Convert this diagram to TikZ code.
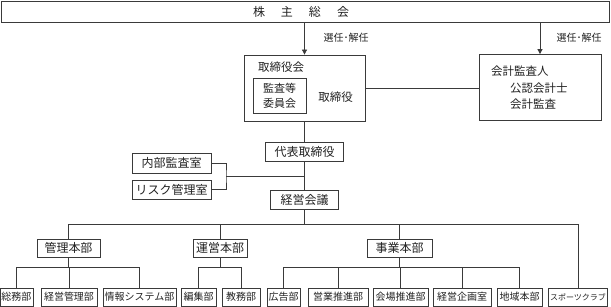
\documentclass[tikz,border=0pt]{standalone}
\usepackage{fontspec}
\setmainfont{Noto Sans CJK JP}
\usetikzlibrary{arrows.meta}
\definecolor{linec}{HTML}{3A3A3A}
\definecolor{textc}{HTML}{222222}
\tikzset{
  box/.style={draw=linec, line width=0.8pt, inner sep=0pt, text=textc,
    minimum height=19pt, font=\fontsize{12}{14}\selectfont},
  leaf/.style={box, minimum height=18pt, font=\fontsize{10}{12}\selectfont},
  conn/.style={draw=linec, line width=0.8pt},
  lbl/.style={inner sep=0pt, text=textc, font=\fontsize{10}{12}\selectfont},
  arr/.style={conn, -{Triangle[length=5pt,width=5pt]}},
}
\begin{document}
\begin{tikzpicture}[x=1pt,y=-1pt]
\useasboundingbox (0,0) rectangle (611,307);
% top
\node[box, minimum width=608pt, minimum height=21pt] (top) at (305,11.5) {};
\node[lbl, font=\fontsize{12}{14}\selectfont] (toptxt) at (301,11.5) {株\hspace{16pt}主\hspace{16pt}総\hspace{16pt}会};
% board
\node[box, minimum width=121pt, minimum height=66pt] (board) at (304.5,88) {};
\node[lbl, font=\fontsize{11.5}{14}\selectfont] (boardtxt) at (281,67) {取締役会};
\node[box, minimum width=53pt, minimum height=35pt, align=center,
  font=\fontsize{11}{15}\selectfont] (comm) at (279.5,95.5) {監査等\\委員会};
\node[lbl, font=\fontsize{11.5}{14}\selectfont] (dirtxt) at (335.5,97) {取締役};
% auditor
\node[box, minimum width=122pt, minimum height=66pt] (aud) at (540,87.5) {};
\node[lbl, anchor=west, font=\fontsize{11.5}{14}\selectfont] (aud1) at (491,71) {会計監査人};
\node[lbl, anchor=west, font=\fontsize{11.5}{14}\selectfont] (aud2) at (510,88) {公認会計士};
\node[lbl, anchor=west, font=\fontsize{11.5}{14}\selectfont] (aud3) at (510,104) {会計監査};
% labels
\node[lbl] (sel1) at (346,38) {選任･解任};
\node[lbl] (sel2) at (579,38) {選任･解任};
% arrows
\draw[arr] (top.south -| board.north) -- (board.north);
\draw[arr] (top.south -| aud.north) -- (aud.north);
\draw[conn] (board.east) -- (board.east -| aud.west);
% representative
\node[box, minimum width=78pt] (rep) at (304.5,151.5) {代表取締役};
\node[box, minimum width=79pt, minimum height=20pt] (ia) at (171.5,163) {内部監査室};
\node[box, minimum width=79pt] (risk) at (171.5,189.5) {リスク管理室};
\node[box, minimum width=68pt] (kaigi) at (304.5,199.5) {経営会議};
\draw[conn] (board.south) -- (rep.north);
\draw[conn] (rep.south) -- (kaigi.north);
\coordinate (j) at (226,176.5);
\draw[conn] (ia.east) -| (j) |- (risk.east);
\draw[conn] (j) -- (j -| rep.south);
% divisions
\coordinate (bus) at (0,224);
\node[box, minimum width=63pt, minimum height=18pt] (kanri) at (68.5,248) {管理本部};
\node[box, minimum width=54pt, minimum height=18pt] (unei) at (220,248) {運営本部};
\node[box, minimum width=65pt, minimum height=18pt] (jigyo) at (399.5,248) {事業本部};
% leaves
\node[leaf, minimum width=33pt] (somu) at (16.5,297) {総務部};
\node[leaf, minimum width=56pt] (kkanri) at (69,297) {経営管理部};
\node[leaf, minimum width=73pt] (joho) at (139.5,297) {情報システム部};
\node[leaf, minimum width=35pt] (hen) at (198.5,297) {編集部};
\node[leaf, minimum width=38pt] (kyo) at (241,297) {教務部};
\node[leaf, minimum width=33pt] (koko) at (283.5,297) {広告部};
\node[leaf, minimum width=60pt] (eigyo) at (338,297) {営業推進部};
\node[leaf, minimum width=55pt] (kaijo) at (400.5,297) {会場推進部};
\node[leaf, minimum width=58pt] (kikaku) at (462,297) {経営企画室};
\node[leaf, minimum width=45pt] (chiiki) at (519.5,297) {地域本部};
\node[leaf, minimum width=59pt, font=\fontsize{8}{10}\selectfont] (sports) at (578,297) {スポーツクラブ};
% main bus
\draw[conn] (kaigi.south) -- (kaigi.south |- bus);
\draw[conn] (kanri.north |- bus) -- (sports.north |- bus);
\draw[conn] (kanri.north) -- (kanri.north |- bus);
\draw[conn] (unei.north) -- (unei.north |- bus);
\draw[conn] (jigyo.north) -- (jigyo.north |- bus);
\draw[conn] (sports.north) -- (sports.north |- bus);
% sub buses
\coordinate (sb) at (0,267);
\draw[conn] (kanri.south) -- (kanri.south |- sb);
\draw[conn] (somu.north |- sb) -- (joho.north |- sb);
\foreach \n in {somu,kkanri,joho} \draw[conn] (\n.north) -- (\n.north |- sb);
\draw[conn] (unei.south) -- (unei.south |- sb);
\draw[conn] (hen.north |- sb) -- (kyo.north |- sb);
\foreach \n in {hen,kyo} \draw[conn] (\n.north) -- (\n.north |- sb);
\draw[conn] (jigyo.south) -- (jigyo.south |- sb);
\draw[conn] (koko.north |- sb) -- (chiiki.north |- sb);
\foreach \n in {koko,eigyo,kaijo,kikaku,chiiki} \draw[conn] (\n.north) -- (\n.north |- sb);
\end{tikzpicture}
\end{document}
